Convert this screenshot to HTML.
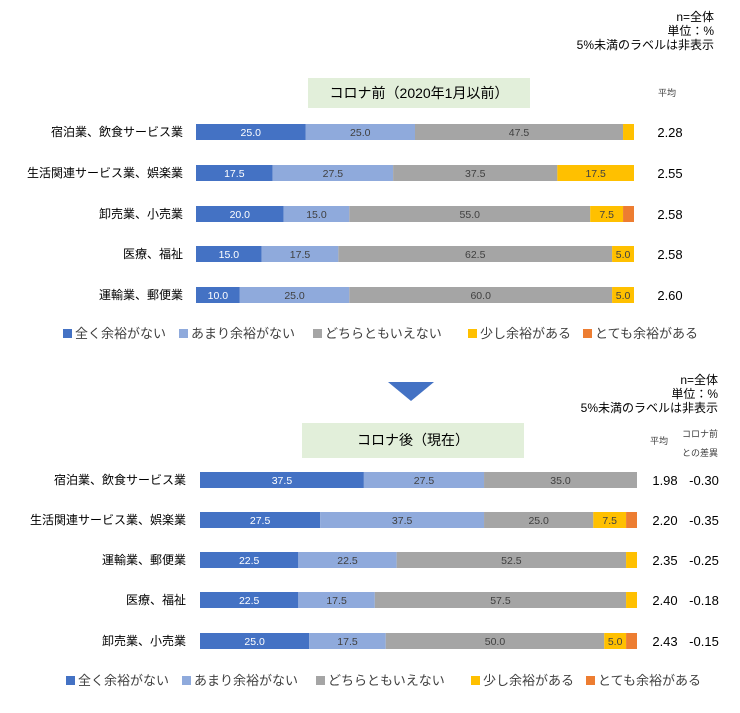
<!DOCTYPE html>
<html><head><meta charset="utf-8"><style>
body{margin:0;background:#fff}
svg text{font-family:"Liberation Sans","Noto Sans CJK JP",sans-serif}
</style></head><body>
<svg id="s" width="740" height="708" xmlns="http://www.w3.org/2000/svg">
<g font-size="12" fill="#000" text-anchor="end">
<text x="714" y="21">n=全体</text><text x="714" y="35">単位：%</text><text x="714" y="49">5%未満のラベルは非表示</text>
<text x="718" y="384">n=全体</text><text x="718" y="398">単位：%</text><text x="718" y="412">5%未満のラベルは非表示</text>
</g>
<rect x="308" y="78" width="222" height="30" fill="#E2EFDA"/>
<text x="419" y="98" font-size="14" text-anchor="middle">コロナ前（2020年1月以前）</text>
<rect x="302" y="423" width="222" height="35" fill="#E2EFDA"/>
<text x="413" y="445" font-size="14" text-anchor="middle">コロナ後（現在）</text>
<polygon points="388,382 434,382 411,401" fill="#4472C4"/>
<text x="667" y="96" font-size="9" fill="#404040" text-anchor="middle">平均</text>
<text x="659" y="444" font-size="9" fill="#404040" text-anchor="middle">平均</text>
<text x="700" y="437" font-size="9" fill="#404040" text-anchor="middle">コロナ前</text>
<text x="700" y="456" font-size="9" fill="#404040" text-anchor="middle">との差異</text>
<g id="g"></g>
</svg>
<script>
const C=["#4472C4","#8FAADC","#A5A5A5","#FFC000","#ED7D31"];
const L=["全く余裕がない","あまり余裕がない","どちらともいえない","少し余裕がある","とても余裕がある"];
let h="";
function chart(x0,w,lx,rows,ax,bx){
 rows.forEach(r=>{let x=x0,y=r.y-8;
  h+=`<text x="${lx}" y="${r.y+4}" font-size="12" text-anchor="end">${r.n}</text>`;
  r.v.forEach((v,i)=>{const ww=v*w/100;
   h+=`<rect x="${x}" y="${y}" width="${ww}" height="16" fill="${C[i]}"/>`;
   if(v>=5)h+=`<text x="${x+ww/2}" y="${r.y+4}" font-size="10.5" text-anchor="middle" fill="${i==0?'#fff':'#404040'}">${v.toFixed(1)}</text>`;
   x+=ww;});
  h+=`<text x="${ax}" y="${r.y+5}" font-size="13" text-anchor="middle">${r.a}</text>`;
  if(r.d)h+=`<text x="${bx}" y="${r.y+5}" font-size="13" text-anchor="middle">${r.d}</text>`;
 });
}
function legend(x,y){let p=[x,x+116,x+250,x+405,x+520];
 L.forEach((t,i)=>{h+=`<rect x="${p[i]}" y="${y-9}" width="9" height="9" fill="${C[i]}"/><text x="${p[i]+12}" y="${y}" font-size="13" fill="#404040">${t}</text>`;});}
chart(196,438,183,[
{y:132,n:"宿泊業、飲食サービス業",v:[25,25,47.5,2.5,0],a:"2.28"},
{y:173,n:"生活関連サービス業、娯楽業",v:[17.5,27.5,37.5,17.5,0],a:"2.55"},
{y:214,n:"卸売業、小売業",v:[20,15,55,7.5,2.5],a:"2.58"},
{y:254,n:"医療、福祉",v:[15,17.5,62.5,5,0],a:"2.58"},
{y:295,n:"運輸業、郵便業",v:[10,25,60,5,0],a:"2.60"}],670,0);
chart(200,437,186,[
{y:480,n:"宿泊業、飲食サービス業",v:[37.5,27.5,35,0,0],a:"1.98",d:"-0.30"},
{y:520,n:"生活関連サービス業、娯楽業",v:[27.5,37.5,25,7.5,2.5],a:"2.20",d:"-0.35"},
{y:560,n:"運輸業、郵便業",v:[22.5,22.5,52.5,2.5,0],a:"2.35",d:"-0.25"},
{y:600,n:"医療、福祉",v:[22.5,17.5,57.5,2.5,0],a:"2.40",d:"-0.18"},
{y:641,n:"卸売業、小売業",v:[25,17.5,50,5,2.5],a:"2.43",d:"-0.15"}],665,704);
legend(63,338);legend(66,685);
document.getElementById("g").innerHTML=h;
</script>
</body></html>
